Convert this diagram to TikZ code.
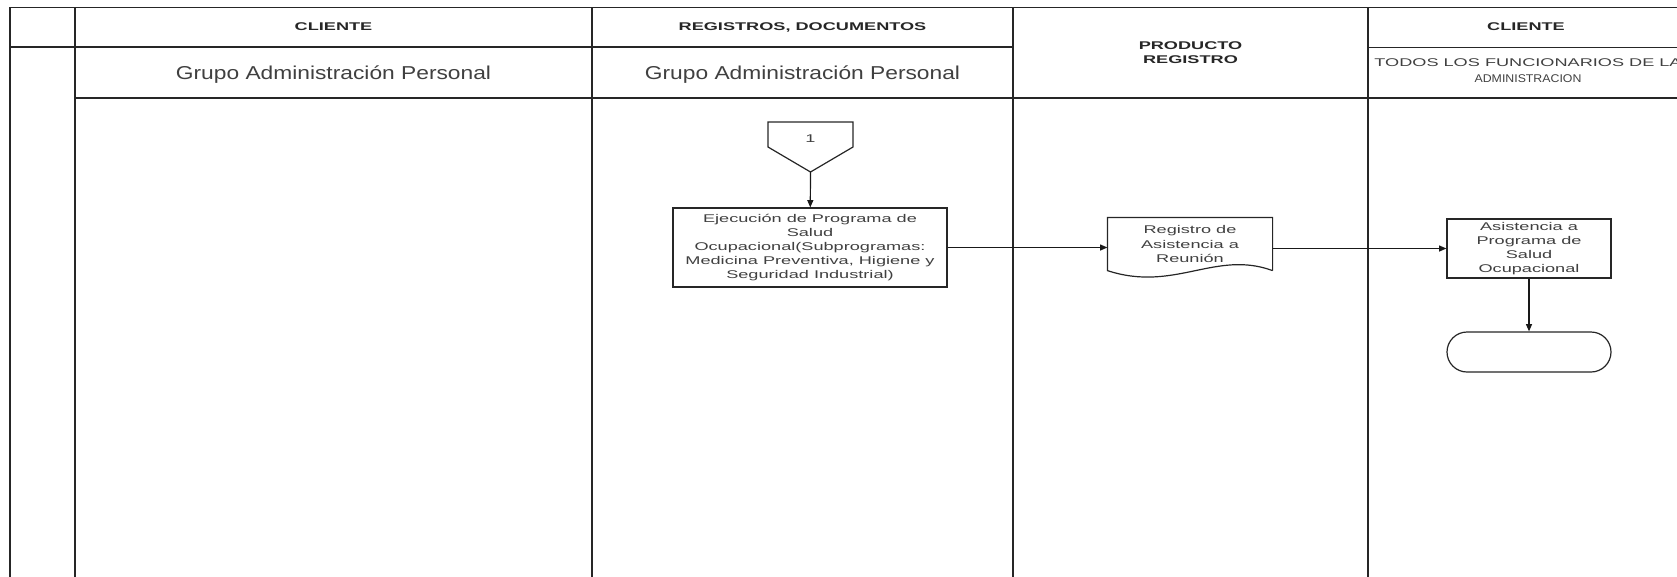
\documentclass[tikz,border=0pt]{standalone}
\usepackage{fontspec}
\setmainfont{Liberation Sans}
\newfontfamily\boxfont[FakeStretch=1.62]{Liberation Sans}
\newfontfamily\lanefont[FakeStretch=1.22]{Liberation Sans}
\newfontfamily\narrowfont[FakeStretch=1.1]{Liberation Sans}
\usetikzlibrary{arrows.meta}

\begin{document}
\begin{tikzpicture}[x=0.75pt,y=-0.75pt]
	%
	% `lane' is used for the swimlane grid.
	% `process' is used for the activity boxes, `flow' for the connectors.
	% `header' and `lanetext' are the texts at the top of each lane.
	\tikzstyle{lane} = [line width=1.2pt,draw=black!85]
	\tikzstyle{outline} = [line width=0.9pt,draw=black!85]
	\tikzstyle{header} = [font=\boxfont\bfseries\fontsize{8.4}{10.5}\selectfont,text=black!85,align=center,inner sep=0pt]
	\tikzstyle{lanetext} = [font=\lanefont\fontsize{14}{16}\selectfont,text=black!75,inner sep=0pt]
	\tikzstyle{process} = [outline,fill=white,font=\boxfont\fontsize{8.4}{10.6}\selectfont,text=black!75,align=center,inner sep=0pt]
	\tikzstyle{flow} = [line width=0.9pt,draw=black!90,-{Triangle[length=5.5pt,width=4.5pt]}]
	%
	\useasboundingbox (0,0) rectangle (1677,576);
	\clip (0,0) rectangle (1677,576);
	%
	% Lanes
	\draw[lane] (10,580) -- (10,7.5) -- (1800,7.5);
	\foreach \x in {75,592,1013,1368}
		\draw[lane] (\x,7.5) -- (\x,580);
	\draw[lane] (10,47) -- (1013,47);
	\draw[lane] (1368,47.5) -- (1800,47.5);
	\draw[lane] (75,98) -- (1800,98);
	%
	% Lane titles
	\node[header] (cliente1) at (333.5,27) {CLIENTE};
	\node[header] (registros) at (802.5,27) {REGISTROS, DOCUMENTOS};
	\node[header] (producto) at (1190.5,52.5) {PRODUCTO\\REGISTRO};
	\node[header] (cliente2) at (1526,27) {CLIENTE};
	\node[lanetext] (grupo1) at (333.5,75) {Grupo Administración Personal};
	\node[lanetext] (grupo2) at (802.5,75) {Grupo Administración Personal};
	\node[header,font=\fontsize{8.4}{12}\selectfont,text=black!75] (todos) at (1528,71)
		{{\boxfont TODOS LOS FUNCIONARIOS DE LA}\\{\narrowfont ADMINISTRACION}};
	%
	% Off-page connector
	\draw[outline] (768,122) -- (853,122) -- (853,147) -- (810.5,172) -- (768,147) -- cycle;
	\node[font=\boxfont\fontsize{8.4}{10.5}\selectfont,text=black!75] (conn) at (810.5,139) {1};
	\coordinate (conn tip) at (810.5,172);
	%
	% Activities
	\node[process,minimum width=205.5pt,minimum height=59.25pt] (ejecucion) at (810,247.5)
		{Ejecución de Programa de\\Salud\\Ocupacional(Subprogramas:\\Medicina Preventiva, Higiene y\\Seguridad Industrial)};
	\node[process,draw=none,fill=none,minimum width=123pt,minimum height=39pt] (documento) at (1190,244)
		{Registro de\\Asistencia a\\Reunión};
	\draw[outline] (documento.south east) -- (documento.north east) -- (documento.north west) -- (documento.south west)
		.. controls ([shift={(67,22)}]documento.south west) and ([shift={(-57,-21)}]documento.south east) .. (documento.south east);
	\node[process,minimum width=123pt,minimum height=44.25pt] (asistencia) at (1529,248.5)
		{Asistencia a\\Programa de\\Salud\\Ocupacional};
	\node[process,rounded corners=15pt,minimum width=123pt,minimum height=30pt] (fin) at (1529,352) {};
	%
	% Connectors
	\draw[flow] (conn tip) -- (ejecucion);
	\draw[flow] (ejecucion.east) -- (ejecucion.east -| documento.west);
	\draw[flow] (asistencia.west -| documento.east) -- (asistencia.west);
	\draw[flow] (asistencia) -- (fin);
	%
\end{tikzpicture}
\end{document}
